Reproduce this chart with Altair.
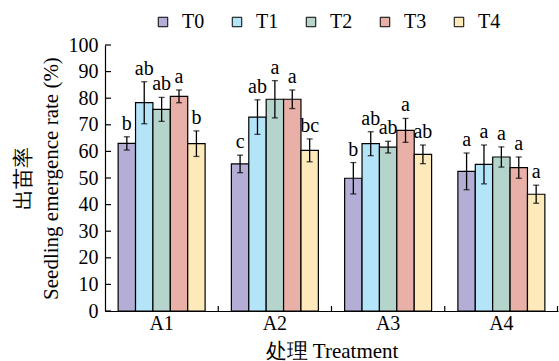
import altair as alt
import pandas as pd

groups = ["A1", "A2", "A3", "A4"]
treatments = ["T0", "T1", "T2", "T3", "T4"]
colors = ["#b4aed6", "#b4e4f8", "#b4d4cc", "#e8b0a6", "#fde9ba"]

mean_T0 = [63.0, 55.3, 49.9, 52.5]
mean_T1 = [78.3, 72.9, 62.9, 55.1]
mean_T2 = [75.8, 79.6, 61.6, 57.9]
mean_T3 = [80.7, 79.6, 67.9, 53.9]
mean_T4 = [62.9, 60.4, 58.9, 43.9]

err_T0 = [2.5, 3.3, 5.9, 6.9]
err_T1 = [7.9, 6.5, 4.5, 7.3]
err_T2 = [4.5, 7.0, 2.2, 3.8]
err_T3 = [2.4, 3.5, 4.5, 4.0]
err_T4 = [4.8, 4.3, 3.5, 3.4]

sig_T0 = ["b", "c", "b", "a"]
sig_T1 = ["ab", "ab", "ab", "a"]
sig_T2 = ["ab", "a", "ab", "a"]
sig_T3 = ["a", "a", "a", "a"]
sig_T4 = ["b", "bc", "ab", "a"]

y_ticks = [0, 10, 20, 30, 40, 50, 60, 70, 80, 90, 100]

means = [mean_T0, mean_T1, mean_T2, mean_T3, mean_T4]
errs = [err_T0, err_T1, err_T2, err_T3, err_T4]
sigs = [sig_T0, sig_T1, sig_T2, sig_T3, sig_T4]

rows = []
for ti, t in enumerate(treatments):
    for gi, g in enumerate(groups):
        m = means[ti][gi]
        e = errs[ti][gi]
        rows.append({"group": g, "treat": t, "mean": m, "top": m + e,
                     "bot": m - e, "sig": sigs[ti][gi]})
df = pd.DataFrame(rows)

FONT = "Liberation Serif"
FS = 20
W, H = 453, 266

xscale = alt.Scale(domain=groups, paddingInner=0, paddingOuter=0)
xoff_scale = alt.Scale(domain=treatments, paddingInner=0, paddingOuter=0.755)
yscale = alt.Scale(domain=[0, 100], nice=False)

xaxis = alt.Axis(title="处理 Treatment", labelAngle=0, ticks=False,
                 labelPadding=2, titlePadding=7, domainColor="black",
                 domainWidth=1.2, labelFont=FONT, labelFontSize=FS,
                 titleFont=FONT, titleFontSize=21)
yaxis = alt.Axis(title=["出苗率", "Seedling emergence rate (%)"],
                 values=y_ticks, ticks=False, labelPadding=7,
                 labelOverlap=False, labelFont=FONT, labelFontSize=FS,
                 titleFont=FONT, titleFontSize=21,
                 domainColor="black", domainWidth=1.2,
                 titleX=-93, titleY=H / 2, titleAlign="center",
                 titleBaseline="top", titleLineHeight=28)

xe = alt.X("group:N", scale=xscale, sort=groups, axis=xaxis)
xo = alt.XOffset("treat:N", scale=xoff_scale, sort=treatments)

base = alt.Chart(df)

bars = base.mark_bar(stroke="black", strokeWidth=1.2).encode(
    x=xe, xOffset=xo,
    y=alt.Y("mean:Q", scale=yscale, axis=yaxis),
    fill=alt.Fill("treat:N", sort=treatments,
                  scale=alt.Scale(domain=treatments, range=colors),
                  legend=alt.Legend(title=None, orient="none", direction="horizontal",
                                    legendX=48, legendY=-33, symbolType="square",
                                    symbolSize=90, symbolStrokeColor="black",
                                    symbolStrokeWidth=1, labelFontSize=FS,
                                    labelFont=FONT, labelOffset=9,
                                    columnPadding=22, padding=0)),
)

erule = base.mark_rule(color="black", strokeWidth=1.3).encode(
    x=xe, xOffset=xo,
    y=alt.Y("bot:Q", scale=yscale, axis=yaxis),
    y2="top:Q",
)
cap_top = base.mark_tick(color="black", size=6, thickness=1.3).encode(
    x=xe, xOffset=xo,
    y=alt.Y("top:Q", scale=yscale, axis=yaxis),
)
cap_bot = base.mark_tick(color="black", size=6, thickness=1.3).encode(
    x=xe, xOffset=xo,
    y=alt.Y("bot:Q", scale=yscale, axis=yaxis),
)
labels = base.mark_text(baseline="alphabetic", dy=-7, fontSize=FS,
                        font=FONT, color="black").encode(
    x=xe, xOffset=xo,
    y=alt.Y("top:Q", scale=yscale, axis=yaxis),
    text="sig:N",
)

ytick_df = pd.DataFrame({"v": y_ticks})
yticks = alt.Chart(ytick_df).mark_rule(color="black", strokeWidth=1.2).encode(
    y=alt.Y("v:Q", scale=yscale, axis=yaxis),
    x=alt.value(0), x2=alt.value(6),
)
xtick_df = pd.DataFrame({"group": groups[1:]})
xticks = alt.Chart(xtick_df).mark_rule(color="black", strokeWidth=1.2).encode(
    x=alt.X("group:N", scale=xscale, sort=groups, bandPosition=0, axis=xaxis),
    y=alt.value(H - 5), y2=alt.value(H),
)
xtick_end = alt.Chart(xtick_df.head(1)).mark_rule(color="black", strokeWidth=1.2).encode(
    x=alt.value(W - 0.5), y=alt.value(H - 5), y2=alt.value(H),
)

chart = alt.layer(bars, erule, cap_top, cap_bot, labels, yticks, xticks, xtick_end).properties(
    width=W, height=H,
    autosize=alt.AutoSizeParams(type="none"),
    padding={"left": 105, "top": 45, "right": 1, "bottom": 50},
).configure_view(stroke=None).configure_axis(
    labelColor="black", titleColor="black", titleFontWeight="normal", grid=False,
)

chart.save("out.html", embed_options={"renderer": "svg", "actions": False})
